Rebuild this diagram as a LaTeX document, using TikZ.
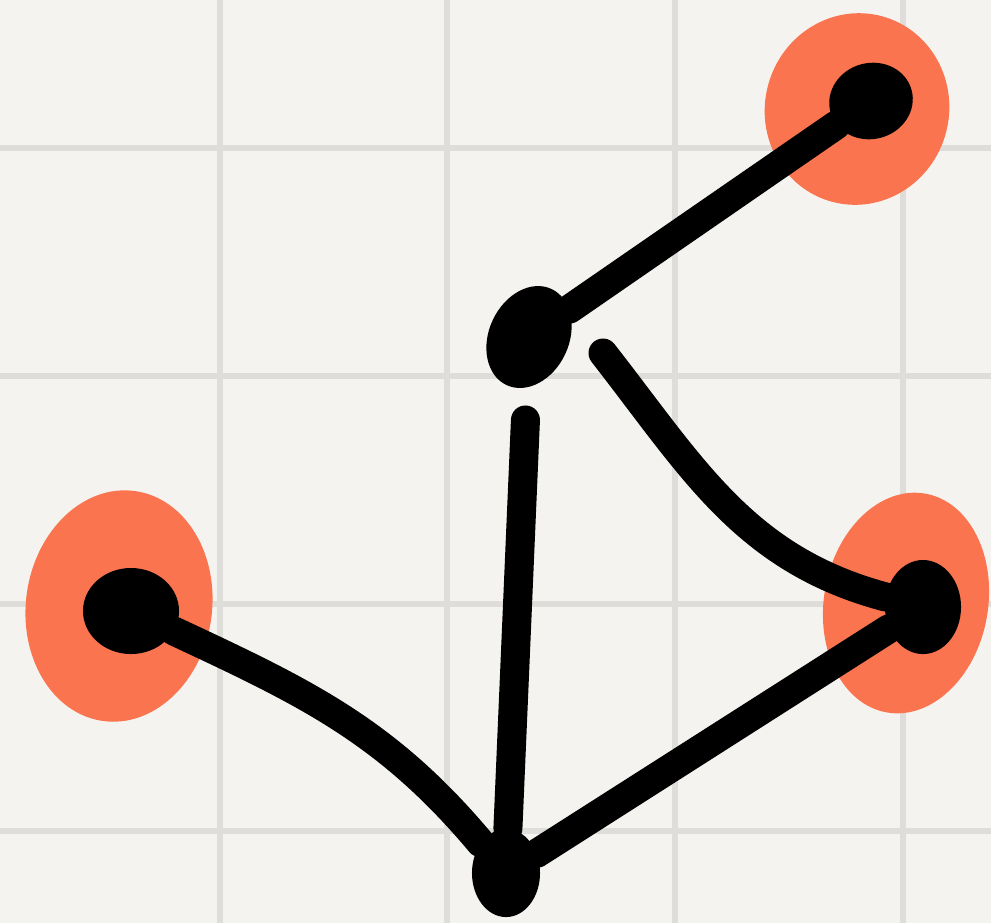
\documentclass[tikz,border=0pt]{standalone}
\usetikzlibrary{shapes.geometric}

\definecolor{paper}{HTML}{F4F3EF}
\definecolor{gridgray}{HTML}{DEDDDA}
\definecolor{coral}{HTML}{F9744F}

\begin{document}
\begin{tikzpicture}[
    x=0.01cm, y=-0.01cm,
    gridline/.style={draw=gridgray, line width=0.06cm},
    blob/.style={ellipse, fill=coral, inner sep=0pt},
    dot/.style={ellipse, fill=black, inner sep=0pt},
    edge/.style={line width=0.29cm, line cap=round}
]

\fill[paper] (0,0) rectangle (991,923);
\useasboundingbox (0,0) rectangle (991,923);

\foreach \x in {220,447,675,903}
    \draw[gridline] (\x,0) -- (\x,923);
\foreach \y in {148,376,604,831}
    \draw[gridline] (0,\y) -- (991,\y);

\node[blob, minimum width=1.84cm, minimum height=1.92cm, rotate=-15] (trblob) at (857,109) {};
\node[blob, minimum width=1.86cm, minimum height=2.32cm, rotate=-8] (lftblob) at (119,606) {};
\node[blob, minimum width=1.64cm, minimum height=2.22cm, rotate=-10] (rgtblob) at (906,603) {};

\node[dot, minimum width=0.84cm, minimum height=0.76cm, rotate=15] (tr) at (871,101) {};
\node[dot, minimum width=0.80cm, minimum height=1.06cm, rotate=-25] (mid) at (529,337) {};
\node[dot, minimum width=0.96cm, minimum height=0.86cm] (lft) at (131,611) {};
\node[dot, minimum width=0.76cm, minimum height=0.94cm] (rgt) at (923,607) {};
\node[dot, minimum width=0.68cm, minimum height=0.88cm] (bot) at (506,873) {};

% loose end of the curve next to the middle dot
\coordinate (midr) at (603,353);

\draw[edge] (tr) -- (mid);
\draw[edge, shorten <=0.32cm] (mid) -- (bot);
\draw[edge] (midr) to[out=-52, in=165] (rgt);
\draw[edge] (lft) to[out=-25, in=130] (bot);
\draw[edge] (rgt) -- (bot);

\end{tikzpicture}
\end{document}
